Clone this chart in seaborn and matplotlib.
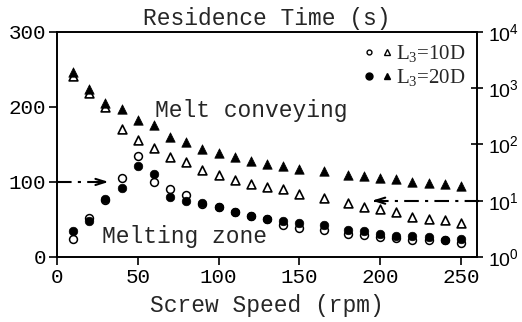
import matplotlib
matplotlib.use("Agg")
import matplotlib.pyplot as plt
from matplotlib.lines import Line2D
from matplotlib.legend_handler import HandlerTuple
from matplotlib.ticker import FixedLocator, FuncFormatter, NullLocator
import seaborn as sns

# screw speed (rpm)
speed = [10, 20, 30, 40, 50, 60, 70, 80, 90, 100, 110, 120, 130, 140, 150,
         165, 180, 190, 200, 210, 220, 230, 240, 250]

# melting zone residence time (s), left linear axis
melt_10d = [24, 52, 76, 105, 134, 100, 90, 82, 71, 66, 60, 55, 50, 43, 39,
            36, 31, 29, 27, 25, 22, 23, 22, 19]
melt_20d = [34, 48, 77, 92, 121, 111, 80, 75, 71.5, 66, 60, 55, 50, 48, 45,
            43, 36, 35, 31, 28, 28, 26, 23, 24]

# melt conveying residence time (s), right log axis
conv_10d = [1650, 824, 464, 189, 120, 87, 60, 49, 35, 28.7, 23.4, 19.9, 17.5,
            16.2, 13.2, 11.2, 9.1, 7.7, 7.1, 6.3, 5.1, 4.7, 4.5, 4.0]
conv_20d = [1945, 970, 547, 428, 273, 222, 136, 111, 83, 71, 60, 51, 45, 41.5,
            36.7, 33.8, 28.7, 27.5, 25.4, 24.4, 21.5, 20.7, 19.9, 18.3]

left_ticks = [0, 100, 200, 300]
right_ticks = [1, 10, 100, 1000, 10000]
x_ticks = [0, 50, 100, 150, 200, 250]

sns.set_style("ticks")
plt.rcParams["font.family"] = ["Liberation Mono", "DejaVu Sans Mono"]
plt.rcParams["mathtext.fontset"] = "custom"
plt.rcParams["mathtext.rm"] = "Liberation Serif"
plt.rcParams["mathtext.sf"] = "Liberation Sans"
plt.rcParams["axes.linewidth"] = 1.2

fig = plt.figure(figsize=(5.22, 3.22), dpi=100)
ax = fig.add_axes([0.109, 0.202, 0.805, 0.699])
ax2 = ax.twinx()

# circles: melting zone
sns.scatterplot(x=speed, y=melt_10d, marker="o", s=32, color="white",
                edgecolor="black", linewidth=1.1, ax=ax, zorder=3)
sns.scatterplot(x=speed, y=melt_20d, marker="o", s=38, color="black",
                edgecolor="black", linewidth=0.5, ax=ax, zorder=4)

# triangles: melt conveying
sns.scatterplot(x=speed, y=conv_10d, marker="^", s=40, color="white",
                edgecolor="black", linewidth=1.2, ax=ax2, zorder=3)
sns.scatterplot(x=speed, y=conv_20d, marker="^", s=46, color="black",
                edgecolor="black", linewidth=0.5, ax=ax2, zorder=4)

ax.set_xlim(0, 260)
ax.set_ylim(0, 300)
ax2.set_yscale("log")
ax2.set_ylim(1, 10000)

ax.xaxis.set_major_locator(FixedLocator(x_ticks))
ax.yaxis.set_major_locator(FixedLocator(left_ticks))
ax2.yaxis.set_major_locator(FixedLocator(right_ticks))
ax2.yaxis.set_minor_locator(NullLocator())
ax2.yaxis.set_major_formatter(
    FuncFormatter(lambda v, p: r"$\mathsf{10^{%d}}$" % round(__import__("math").log10(v))))

ax.tick_params(axis="both", direction="out", length=6, width=1.2,
               labelsize=15, colors="black", pad=2)
ax2.tick_params(axis="y", direction="inout", length=9, width=1.2,
                labelsize=14, colors="black", pad=3)

for a in (ax, ax2):
    for sp in a.spines.values():
        sp.set_visible(True)
        sp.set_color("black")
        sp.set_linewidth(1.2)

ax.set_xlabel("Screw Speed (rpm)", fontsize=16.5, labelpad=5)
ax.set_title("Residence Time (s)", fontsize=16.5, pad=5)

# annotations
ax.text(61, 187, "Melt conveying", fontsize=16.5, va="baseline", ha="left")
ax.text(28, 19, "Melting zone", fontsize=16.5, va="baseline", ha="left")

# dash-dot arrows pointing to the relevant axis
left_arrow_x = [0, 31]
left_arrow_y = 100
ax.plot(left_arrow_x, [left_arrow_y, left_arrow_y], ls="-.", color="black",
        lw=1.5, clip_on=False, zorder=5, dashes=(7, 3, 1.5, 3))
ax.annotate("", xy=(left_arrow_x[1] + 1, left_arrow_y),
            xytext=(left_arrow_x[1] - 5, left_arrow_y),
            arrowprops=dict(arrowstyle="->,head_length=0.7,head_width=0.22",
                            lw=1.5, color="black", shrinkA=0, shrinkB=0))

right_arrow_x = [196, 262]
right_arrow_y = 10
ax2.plot(right_arrow_x, [right_arrow_y, right_arrow_y], color="black",
         lw=1.5, clip_on=False, zorder=5, dashes=(7, 3, 1.5, 3))
ax2.annotate("", xy=(right_arrow_x[0] - 1, right_arrow_y),
             xytext=(right_arrow_x[0] + 5, right_arrow_y),
             arrowprops=dict(arrowstyle="->,head_length=0.7,head_width=0.22",
                             lw=1.5, color="black", shrinkA=0, shrinkB=0))

# legend
h10 = (Line2D([], [], ls="", marker="o", ms=3.5, mfc="white", mec="black", mew=1),
       Line2D([], [], ls="", marker="^", ms=4.5, mfc="white", mec="black", mew=1))
h20 = (Line2D([], [], ls="", marker="o", ms=5, mfc="black", mec="black"),
       Line2D([], [], ls="", marker="^", ms=5, mfc="black", mec="black"))
ax2.legend([h10, h20], [r"$\mathrm{L_3}$=10D", r"$\mathrm{L_3}$=20D"],
           handler_map={tuple: HandlerTuple(ndivide=None, pad=0.3)},
           loc="upper right", frameon=False, handlelength=1.4,
           handletextpad=0.15, borderaxespad=0.15, labelspacing=0.15,
           prop={"family": "Liberation Serif", "size": 15})

fig.savefig("out.png", dpi=100)
